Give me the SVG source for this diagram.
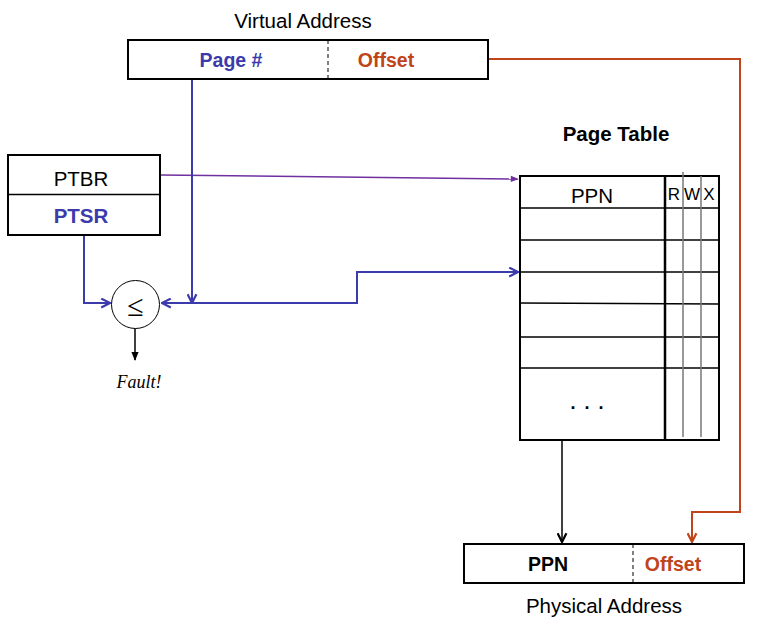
<svg xmlns="http://www.w3.org/2000/svg" width="758" height="621" viewBox="0 0 758 621">
<defs>
<style>
text{font-family:"Liberation Sans",Arial,sans-serif;text-anchor:middle;dominant-baseline:central}
.box{fill:#fff;stroke:#000;stroke-width:2}
.lbl{font-size:20.5px;fill:#000}
.b{font-weight:bold;font-size:19.5px}
.blue{fill:#3b3bab}
.or{fill:#c0441a}
.dash{stroke:#000;stroke-width:1;stroke-dasharray:4 3}
.bl{fill:none;stroke:#3b3bab;stroke-width:2}
.pu{fill:none;stroke:#7030a0;stroke-width:1.5}
.ol{fill:none;stroke:#c0441a;stroke-width:2}
.kl{fill:none;stroke:#000;stroke-width:1.5}
.row{stroke:#000;stroke-width:1.5}
.g{stroke:#777;stroke-width:1.5}
</style>
<marker id="ab" viewBox="0 0 10 10" refX="9" refY="5" markerWidth="11" markerHeight="11" markerUnits="userSpaceOnUse" orient="auto"><path d="M1,1 L9,5 L1,9" fill="none" stroke="#3b3bab" stroke-width="2"/></marker>
<marker id="ao" viewBox="0 0 10 10" refX="9" refY="5" markerWidth="11" markerHeight="11" markerUnits="userSpaceOnUse" orient="auto"><path d="M1,1 L9,5 L1,9" fill="none" stroke="#c0441a" stroke-width="2"/></marker>
<marker id="ak" viewBox="0 0 10 10" refX="9" refY="5" markerWidth="11" markerHeight="11" markerUnits="userSpaceOnUse" orient="auto"><path d="M1,1 L9,5 L1,9" fill="none" stroke="#000" stroke-width="2"/></marker>
<marker id="ap" viewBox="0 0 10 10" refX="9" refY="5" markerWidth="10" markerHeight="8" markerUnits="userSpaceOnUse" orient="auto"><path d="M0,1 L10,5 L0,9 z" fill="#7030a0"/></marker>
<marker id="kf" viewBox="0 0 10 10" refX="9" refY="5" markerWidth="9" markerHeight="9" markerUnits="userSpaceOnUse" orient="auto"><path d="M0,1 L10,5 L0,9 z" fill="#000"/></marker>
</defs>
<rect width="758" height="621" fill="#fff"/>

<g id="connectors">
<path class="pu" d="M160,175 L518,179" marker-end="url(#ap)"/>
<path class="bl" d="M192,79 L192,303" marker-end="url(#ab)"/>
<path class="bl" d="M357,271 L357,303 L162,303" marker-end="url(#ab)"/>
<path class="bl" d="M357,272 L518,272" marker-end="url(#ab)"/>
<path class="bl" d="M84,235 L84,303 L110,303" marker-end="url(#ab)"/>
<path class="kl" d="M135,328 L135,360" marker-end="url(#kf)"/>
<path class="ol" d="M488,59 L740,59 L740,512 L692,512 L692,542" marker-end="url(#ao)"/>
<path class="kl" d="M562,440 L562,542" marker-end="url(#ak)"/>
</g>

<g id="virtual-address">
<text class="lbl" x="303" y="20">Virtual Address</text>
<rect class="box" x="128" y="40" width="360" height="39"/>
<line class="dash" x1="328" y1="40" x2="328" y2="79"/>
<text class="b blue" x="231" y="60">Page #</text>
<text class="b or" x="386" y="60">Offset</text>
</g>

<g id="ptbr">
<rect class="box" x="8" y="155" width="152" height="80"/>
<line class="row" x1="8" y1="194.5" x2="160" y2="194.5"/>
<text class="lbl" x="81" y="178">PTBR</text>
<text class="b blue" x="81" y="215" style="font-size:20.5px">PTSR</text>
</g>

<g id="comparator">
<circle cx="135.5" cy="304.5" r="24" fill="#fff" stroke="#000" stroke-width="1"/>
<text x="135.5" y="305" style="font-size:30px;font-family:'Liberation Serif',serif">≤</text>
<text x="139" y="382" style="font-family:'Liberation Serif','Times New Roman',serif;font-style:italic;font-size:18px">Fault!</text>
</g>

<g id="page-table">
<text x="616" y="133" style="font-weight:bold;font-size:20.5px">Page Table</text>
<rect class="box" x="520" y="176" width="199" height="264" stroke-width="2.5"/>
<line class="row" x1="520" y1="208" x2="719" y2="208"/>
<line class="row" x1="520" y1="240" x2="719" y2="240"/>
<line class="row" x1="520" y1="272" x2="719" y2="272"/>
<line class="row" x1="520" y1="303" x2="719" y2="304"/>
<line class="row" x1="520" y1="337" x2="719" y2="337"/>
<line class="row" x1="520" y1="368" x2="719" y2="368"/>
<line x1="665" y1="176" x2="665" y2="440" stroke="#000" stroke-width="2.5"/>
<line class="g" x1="683" y1="172" x2="683" y2="437"/>
<line class="g" x1="701" y1="176" x2="701" y2="437"/>
<text class="lbl" x="592" y="195">PPN</text>
<text x="674" y="194" style="font-size:17px">R</text>
<text x="692" y="194" style="font-size:17px">W</text>
<text x="709" y="194" style="font-size:17px">X</text>
<text x="588" y="403" style="font-size:18px;font-weight:bold;letter-spacing:2px">. . .</text>
</g>

<g id="physical-address">
<rect class="box" x="464" y="544" width="280" height="39"/>
<line class="dash" x1="633" y1="544" x2="633" y2="583"/>
<text class="b" x="548" y="564">PPN</text>
<text class="b or" x="673" y="564">Offset</text>
<text class="lbl" x="604" y="605">Physical Address</text>
</g>
</svg>
